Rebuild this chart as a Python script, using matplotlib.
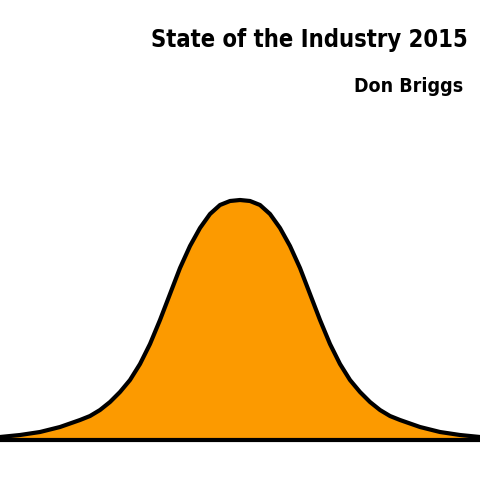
import matplotlib
matplotlib.use("Agg")
import matplotlib.pyplot as plt

title = "State of the Industry 2015"
author = "Don Briggs"

# curve (pixel-ish units, height above baseline)
xs = [0, 20, 40, 60, 80, 90, 100, 110, 120, 130, 140, 150, 160, 170, 180,
      190, 200, 210, 220, 230, 240, 250, 260, 270, 280, 290, 300, 310, 320,
      330, 340, 350, 360, 370, 380, 390, 400, 420, 440, 460, 480]
heights = [3, 5, 8, 13, 20, 24, 30, 38, 48, 60, 76, 96, 120, 146, 172,
           194, 212, 226, 235, 239, 240, 239, 235, 226, 212, 194, 172, 146, 120,
           96, 76, 60, 48, 38, 30, 24, 20, 13, 8, 5, 3]

fig = plt.figure(figsize=(4.8, 4.8), dpi=100)
ax = fig.add_axes([0, 0, 1, 1])
ax.set_xlim(0, 480)
ax.set_ylim(-40, 440)
ax.axis("off")

ax.fill_between(xs, 0, heights, color="#fc9a00", zorder=1)
ax.plot(xs, heights, color="black", lw=3, solid_joinstyle="round", zorder=2)
ax.axhline(0, color="black", lw=3, zorder=3)

fam = ["DejaVu Sans Condensed", "DejaVu Sans"]
fig.text(468 / 480, 1 - 40 / 480, title, ha="right", va="center",
         fontsize=17, fontweight="bold", family=fam, fontstretch="condensed")
fig.text(463 / 480, 1 - 87 / 480, author, ha="right", va="center",
         fontsize=14, fontweight="bold", family=fam, fontstretch="condensed")

fig.savefig("out.png")
